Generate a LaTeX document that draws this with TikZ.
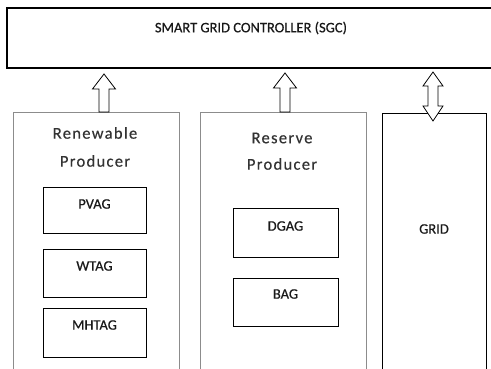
\documentclass[tikz,border=0pt]{standalone}
\usepackage{fontspec}
\setmainfont{Carlito}
\newfontfamily\capsfont[FakeBold=0.6]{Carlito}
\newfontfamily\spaced[LetterSpace=8,FakeBold=0.4]{Carlito}
\begin{document}
\begin{tikzpicture}[x=1pt,y=-1pt,
  outerbox/.style={draw=black!45,line width=0.8pt,fill=white},
  innerbox/.style={draw=black,line width=0.9pt,fill=white},
  lab/.style={font=\capsfont\fontsize{14.5}{16}\selectfont,text=black!90},
  biglab/.style={font=\spaced\fontsize{16.5}{18}\selectfont,text=black!80,align=center},
  blockarrow/.style={draw=black,line width=0.8pt,fill=white,line join=miter}]
\useasboundingbox (0,0) rectangle (491,369);
\clip (0,0) rectangle (491,369);
% SGC
\draw[line width=1.2pt] (7,8) rectangle (500,68);
\node[lab] (sgc) at (251,28) {SMART GRID CONTROLLER (SGC)};
% Renewable producer
\draw[outerbox] (13,112) rectangle (179,380);
\node[biglab] (ren1) at (95,133) {Renewable};
\node[biglab] (ren2) at (95,161) {Producer};
\draw[innerbox] (43,187) rectangle (146,233);
\node[lab] (pvag) at (94.5,204) {PVAG};
\draw[innerbox] (43,249) rectangle (146,297);
\node[lab] (wtag) at (94.5,266) {WTAG};
\draw[innerbox] (43,308) rectangle (146,357);
\node[lab] (mhtag) at (94.5,325) {MHTAG};
% Reserve producer
\draw[outerbox] (200,112) rectangle (366,380);
\node[biglab] (res1) at (282,138) {Reserve};
\node[biglab] (res2) at (282,164) {Producer};
\draw[innerbox] (233,208) rectangle (338,257);
\node[lab] (dgag) at (285.5,226) {DGAG};
\draw[innerbox] (233,278) rectangle (338,326);
\node[lab] (bag) at (285.5,294) {BAG};
% Grid
\draw[line width=0.9pt] (382,113) rectangle (486,380);
\node[lab] (grid) at (434,229) {GRID};
% Block arrows
\draw[blockarrow] (104,74) -- (115.5,89) -- (109,89) -- (109,112) -- (99,112) -- (99,89) -- (92.5,89) -- cycle;
\draw[blockarrow] (285,73) -- (296.5,88) -- (290,88) -- (290,112) -- (280,112) -- (280,88) -- (273.5,88) -- cycle;
\draw[blockarrow] (433,72) -- (443,86) -- (438,86) -- (438,106) -- (443,106) -- (433,121) -- (423,106) -- (428,106) -- (428,86) -- (423,86) -- cycle;
\end{tikzpicture}
\end{document}
